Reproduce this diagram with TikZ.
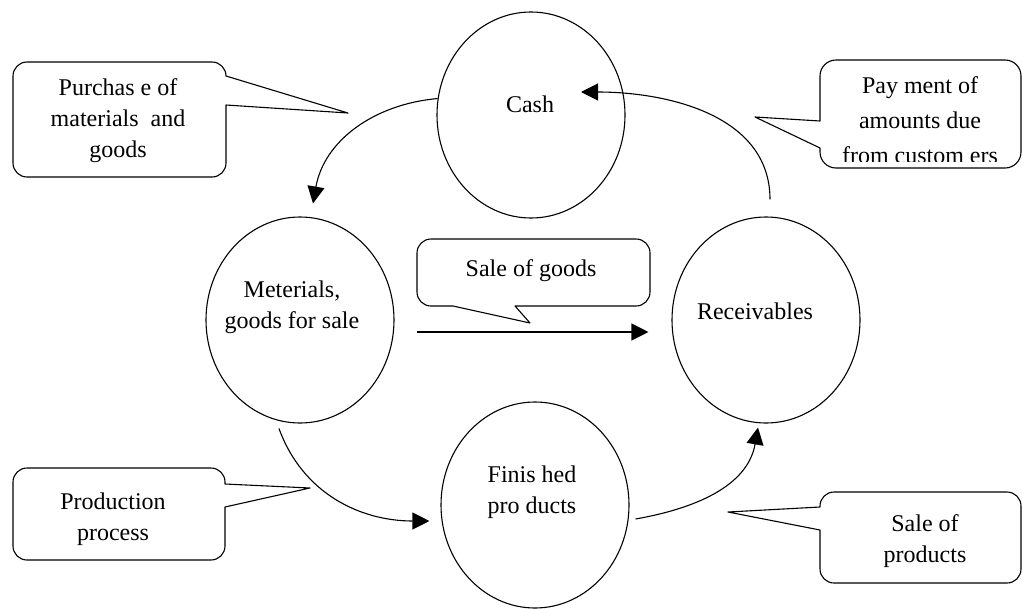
\documentclass[tikz,border=0pt]{standalone}
\usepackage{fontspec}
\setmainfont{Liberation Serif}
\usetikzlibrary{shapes.geometric,arrows.meta}

\begin{document}
\begin{tikzpicture}[x=1pt,y=1pt,
	stock/.style={ellipse,draw,line width=1.1pt,minimum width=188pt,minimum height=206pt,inner sep=0pt},
	txt/.style={align=center,font=\fontsize{24}{31}\selectfont,inner sep=0pt},
	balloon/.style={draw,line width=1.1pt,line join=round},
	flow/.style={-{Triangle[length=17pt,width=17pt]},line width=1.1pt}]
\useasboundingbox (0,0) rectangle (1022,-608);

% the four stocks
\node[stock] (cash) at (531,-115) {};
\node[stock] (met) at (300,-320) {};
\node[stock] (rec) at (766,-320) {};
\node[stock] (fin) at (535,-505) {};

\node[txt] (cash-t) at (530,-104) {Cash};
\node[txt] (met-t) at (292,-307) {Meterials,\\goods for sale};
\node[txt] (rec-t) at (755,-311) {Receivables};
\node[txt] (fin-t) at (532,-492) {Finis hed\\pro ducts};

% callouts
\draw[balloon] (226,-105) -- (226,-163) arc[start angle=0,end angle=-90,radius=14] -- (27,-177) arc[start angle=270,end angle=180,radius=14] -- (13,-76) arc[start angle=180,end angle=90,radius=14] -- (212,-62) arc[start angle=90,end angle=0,radius=14] -- (348,-113) -- cycle;
\node[txt] (purch) at (118,-121) {Purchas e of\\materials\ \ and\\goods};

\draw[balloon] (820,-121) -- (820,-76) arc[start angle=180,end angle=90,radius=16] -- (1005,-60) arc[start angle=90,end angle=0,radius=16] -- (1021,-152) arc[start angle=0,end angle=-90,radius=16] -- (836,-168) arc[start angle=270,end angle=180,radius=16] -- (820,-148) -- (755,-117) -- cycle;
\begin{scope}
\clip (820,-60) rectangle (1022,-161);
\node[txt,font=\fontsize{24}{35}\selectfont] (pay) at (920,-120) {Pay ment of\\amounts due\\from custom ers};
\end{scope}

\draw[balloon] (515,-306) -- (636,-306) arc[start angle=270,end angle=360,radius=14] -- (650,-253) arc[start angle=0,end angle=90,radius=14] -- (431,-239) arc[start angle=90,end angle=180,radius=14] -- (417,-292) arc[start angle=180,end angle=270,radius=14] -- (453,-306) -- (530,-323) -- cycle;
\node[txt] (sog) at (531,-271) {Sale of goods};

\draw[balloon] (225,-507) -- (225,-546) arc[start angle=0,end angle=-90,radius=14] -- (27,-560) arc[start angle=270,end angle=180,radius=14] -- (13,-482) arc[start angle=180,end angle=90,radius=14] -- (211,-468) arc[start angle=90,end angle=0,radius=14] -- (225,-484) -- (310,-488) -- cycle;
\node[txt] (prod) at (113,-519) {Production\\process};

\draw[balloon] (820,-530) -- (820,-569) arc[start angle=180,end angle=270,radius=14] -- (1007,-583) arc[start angle=270,end angle=360,radius=14] -- (1021,-506) arc[start angle=0,end angle=90,radius=14] -- (834,-492) arc[start angle=90,end angle=180,radius=14] -- (820,-507) -- (728,-512) -- cycle;
\node[txt] (sop) at (925,-541) {Sale of\\products};

% flows
\coordinate (cash-in) at (581,-92);
\draw[flow] (cash.170) to[out=185,in=80] ([shift={(13pt,13pt)}]met.north);
\draw[flow] ([shift={(4pt,17pt)}]rec.north) to[out=90,in=0] (cash-in);
\draw[flow,shorten <=22pt,shorten >=23pt] ([yshift=-12pt]met.east) -- ([yshift=-12pt]rec.west);
\draw[flow] ([shift={(-21pt,-5pt)}]met.south) to[out=-70,in=180] ([shift={(-11pt,-16pt)}]fin.west);
\draw[flow] ([shift={(6pt,-14pt)}]fin.east) to[out=10,in=-100] ([shift={(-8pt,-4pt)}]rec.south);
\end{tikzpicture}
\end{document}
